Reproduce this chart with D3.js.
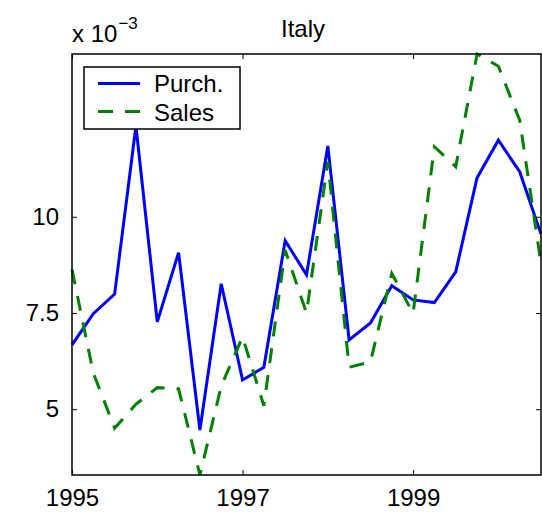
<!DOCTYPE html>
<html>
<head>
<meta charset="utf-8">
<script src="https://cdn.jsdelivr.net/npm/d3@7"></script>
<style>
  body { margin: 0; background: #fff; }
  text { font-family: "Liberation Sans", Arial, sans-serif; fill: #000; }
</style>
</head>
<body>
<div id="chart-container"></div>
<script>
// Quarterly data, values in units of 10^-3

const quarters = [1995, 1995.25, 1995.5, 1995.75, 1996, 1996.25, 1996.5, 1996.75,
  1997, 1997.25, 1997.5, 1997.75, 1998, 1998.25, 1998.5, 1998.75,
  1999, 1999.25, 1999.5, 1999.75, 2000, 2000.25, 2000.5];

const purch = [6.67, 7.48, 7.99, 12.36, 7.27, 9.07, 4.46, 8.26,
  5.76, 6.09, 9.38, 8.49, 11.84, 6.80, 7.24, 8.21,
  7.84, 7.77, 8.57, 11.01, 11.99, 11.17, 9.55];

const sales = [8.63, 5.94, 4.51, 5.13, 5.56, 5.53, 3.29, 5.60,
  6.88, 5.09, 9.13, 7.50, 11.43, 6.09, 6.23, 8.53,
  7.49, 11.82, 11.30, 14.23, 13.91, 12.51, 8.79];

const xTicks = [1995, 1997, 1999];
const yTicks = [5, 7.5, 10];
const yTickLabels = ["5", "7.5", "10"];
const seriesNames = ["Purch.", "Sales"];

const margin = { top: 54, right: 1, bottom: 38, left: 72 };
const width = 542 - margin.left - margin.right;
const height = 513 - margin.top - margin.bottom;

// Scales (axis tight like MATLAB)

const x = d3.scaleLinear()
  .domain(d3.extent(quarters))
  .range([0, width]);

const y = d3.scaleLinear()
  .domain(d3.extent(purch.concat(sales)))
  .range([height, 0]);

const svg = d3.select("#chart-container")
  .append("svg")
  .attr("width", 542)
  .attr("height", 513)
  .append("g")
  .attr("transform", `translate(${margin.left},${margin.top})`);

// Lines

const line = d3.line()
  .x((d, i) => x(quarters[i]))
  .y(d => y(d));

svg.append("path")
  .datum(purch)
  .attr("fill", "none")
  .attr("stroke", "#0000ff")
  .attr("stroke-width", 3)
  .attr("stroke-linejoin", "miter")
  .attr("d", line);

svg.append("path")
  .datum(sales)
  .attr("fill", "none")
  .attr("stroke", "#008000")
  .attr("stroke-width", 3)
  .attr("stroke-dasharray", "15,12")
  .attr("d", line);

// Axes box with inward ticks on all sides

svg.append("g")
  .attr("transform", `translate(0,${height})`)
  .style("font-size", "24px")
  .call(d3.axisBottom(x)
    .tickValues(xTicks)
    .tickFormat(d3.format("d"))
    .tickSizeInner(-5)
    .tickSizeOuter(0)
    .tickPadding(14))
  .call(g => g.select(".domain").remove())
  .selectAll(".tick text")
  .attr("dy", "0.71em")
  .style("font-family", "'Liberation Sans', Arial, sans-serif");

svg.append("g")
  .call(d3.axisTop(x)
    .tickValues(xTicks)
    .tickFormat("")
    .tickSizeInner(-5)
    .tickSizeOuter(0))
  .call(g => g.select(".domain").remove());

svg.append("g")
  .style("font-size", "24px")
  .call(d3.axisLeft(y)
    .tickValues(yTicks)
    .tickFormat((d, i) => yTickLabels[i])
    .tickSizeInner(-5)
    .tickSizeOuter(0)
    .tickPadding(13))
  .call(g => g.select(".domain").remove())
  .selectAll(".tick text")
  .style("font-family", "'Liberation Sans', Arial, sans-serif");

svg.append("g")
  .attr("transform", `translate(${width},0)`)
  .call(d3.axisRight(y)
    .tickValues(yTicks)
    .tickFormat("")
    .tickSizeInner(-5)
    .tickSizeOuter(0))
  .call(g => g.select(".domain").remove());

svg.selectAll(".tick line")
  .attr("stroke", "#000")
  .attr("stroke-width", 1);

svg.append("rect")
  .attr("width", width)
  .attr("height", height)
  .attr("fill", "none")
  .attr("stroke", "#000")
  .attr("stroke-width", 1.5);

// Exponent label

const expo = svg.append("text")
  .attr("x", 0)
  .attr("y", -12)
  .style("font-size", "24px");
expo.append("tspan").text("x 10");
expo.append("tspan")
  .attr("dy", -13)
  .attr("dx", 1)
  .style("font-size", "17px")
  .text("\u22123");

// Title

svg.append("text")
  .attr("x", 231)
  .attr("y", -17)
  .style("text-anchor", "middle")
  .style("font-size", "24px")
  .text("Italy");

// Legend

const legend = svg.append("g")
  .attr("transform", "translate(12,13)");

legend.append("rect")
  .attr("width", 156)
  .attr("height", 62)
  .attr("fill", "#fff")
  .attr("stroke", "#000")
  .attr("stroke-width", 1.5);

const legendColors = ["#0000ff", "#008000"];
const legendDash = [null, "15,12"];

seriesNames.forEach((name, i) => {
  legend.append("line")
    .attr("x1", 14)
    .attr("x2", 56)
    .attr("y1", 16.5 + i * 28)
    .attr("y2", 16.5 + i * 28)
    .attr("stroke", legendColors[i])
    .attr("stroke-width", 3)
    .attr("stroke-dasharray", legendDash[i]);
  legend.append("text")
    .attr("x", 70)
    .attr("y", 25 + i * 29)
    .style("font-size", "24px")
    .text(name);
});
</script>
</body>
</html>
